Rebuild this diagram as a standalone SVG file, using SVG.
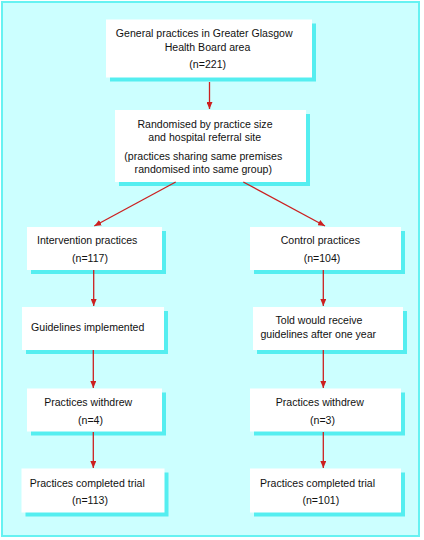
<svg xmlns="http://www.w3.org/2000/svg" width="424" height="540" viewBox="0 0 424 540">
<style>
.bg{fill:#ccffff;stroke:#66f2f2;stroke-width:2}
.sh{fill:#55eef0}
.bx{fill:#ffffff}
.t{font-family:"Liberation Sans",Arial,sans-serif;font-size:11.5px;fill:#111;text-anchor:middle}
.c{stroke:#cc2020;stroke-width:1.3;fill:none;marker-end:url(#ah)}
</style>
<defs>
<marker id="ah" markerUnits="userSpaceOnUse" markerWidth="8" markerHeight="6" refX="7" refY="3" orient="auto">
<path d="M0,0 L7,3 L0,6 z" fill="#cc2020"/>
</marker>
</defs>
<rect class="bg" x="2" y="2" width="417" height="534"/>
<g id="n1">
<rect class="sh" x="110" y="23.5" width="206" height="58"/>
<rect class="bx" x="106" y="19.5" width="206" height="58"/>
<text class="t" transform="translate(204.2,37.3) scale(0.92,1)">General practices in Greater Glasgow</text>
<text class="t" transform="translate(207.5,50.7) scale(0.92,1)">Health Board area</text>
<text class="t" transform="translate(207.7,67.7) scale(0.92,1)">(n=221)</text>
</g>
<g id="n2">
<rect class="sh" x="119" y="114" width="191" height="72"/>
<rect class="bx" x="115" y="110" width="191" height="72"/>
<text class="t" transform="translate(205,127.5) scale(0.92,1)">Randomised by practice size</text>
<text class="t" transform="translate(204.7,141) scale(0.92,1)">and hospital referral site</text>
<text class="t" transform="translate(203.3,159.5) scale(0.92,1)">(practices sharing same premises</text>
<text class="t" transform="translate(203.3,172.7) scale(0.92,1)">randomised into same group)</text>
</g>
<g id="n3">
<rect class="sh" x="31" y="231" width="135" height="43"/>
<rect class="bx" x="27" y="227" width="135" height="43"/>
<text class="t" transform="translate(87.2,244) scale(0.92,1)">Intervention practices</text>
<text class="t" transform="translate(90,261.5) scale(0.92,1)">(n=117)</text>
</g>
<g id="n4">
<rect class="sh" x="254" y="231" width="151" height="43"/>
<rect class="bx" x="250" y="227" width="151" height="43"/>
<text class="t" transform="translate(320.3,244) scale(0.92,1)">Control practices</text>
<text class="t" transform="translate(322,261.5) scale(0.92,1)">(n=104)</text>
</g>
<g id="n5">
<rect class="sh" x="26" y="311" width="142" height="43"/>
<rect class="bx" x="22" y="307" width="142" height="43"/>
<text class="t" transform="translate(87.7,330.5) scale(0.92,1)">Guidelines implemented</text>
</g>
<g id="n6">
<rect class="sh" x="257" y="311" width="150" height="43"/>
<rect class="bx" x="253" y="307" width="150" height="43"/>
<text class="t" transform="translate(319,324.3) scale(0.92,1)">Told would receive</text>
<text class="t" transform="translate(318.3,338.3) scale(0.92,1)">guidelines after one year</text>
</g>
<g id="n7">
<rect class="sh" x="31" y="392.5" width="135" height="43"/>
<rect class="bx" x="27" y="388.5" width="135" height="43"/>
<text class="t" transform="translate(88.2,405.7) scale(0.92,1)">Practices withdrew</text>
<text class="t" transform="translate(90.5,424) scale(0.92,1)">(n=4)</text>
</g>
<g id="n8">
<rect class="sh" x="254" y="392.5" width="151" height="43"/>
<rect class="bx" x="250" y="388.5" width="151" height="43"/>
<text class="t" transform="translate(319.8,405.7) scale(0.92,1)">Practices withdrew</text>
<text class="t" transform="translate(322.5,424) scale(0.92,1)">(n=3)</text>
</g>
<g id="n9">
<rect class="sh" x="25.5" y="472.5" width="143" height="44"/>
<rect class="bx" x="21.5" y="468.5" width="143" height="44"/>
<text class="t" transform="translate(87.2,486.5) scale(0.92,1)">Practices completed trial</text>
<text class="t" transform="translate(90,504.3) scale(0.92,1)">(n=113)</text>
</g>
<g id="n10">
<rect class="sh" x="254" y="472.5" width="151" height="44"/>
<rect class="bx" x="250" y="468.5" width="151" height="44"/>
<text class="t" transform="translate(317.5,486.5) scale(0.92,1)">Practices completed trial</text>
<text class="t" transform="translate(320.8,504.3) scale(0.92,1)">(n=101)</text>
</g>
<g id="connectors">
<line class="c" x1="209.5" y1="82" x2="209.5" y2="109"/>
<line class="c" x1="175.7" y1="182" x2="94.3" y2="226"/>
<line class="c" x1="243.3" y1="182" x2="325" y2="226"/>
<line class="c" x1="93.7" y1="270" x2="93.7" y2="306"/>
<line class="c" x1="323.3" y1="270" x2="323.3" y2="306"/>
<line class="c" x1="93.3" y1="350" x2="93.3" y2="388"/>
<line class="c" x1="323.3" y1="350" x2="323.3" y2="388"/>
<line class="c" x1="93.3" y1="432" x2="93.3" y2="468"/>
<line class="c" x1="323.3" y1="432" x2="323.3" y2="468"/>
</g>
</svg>
